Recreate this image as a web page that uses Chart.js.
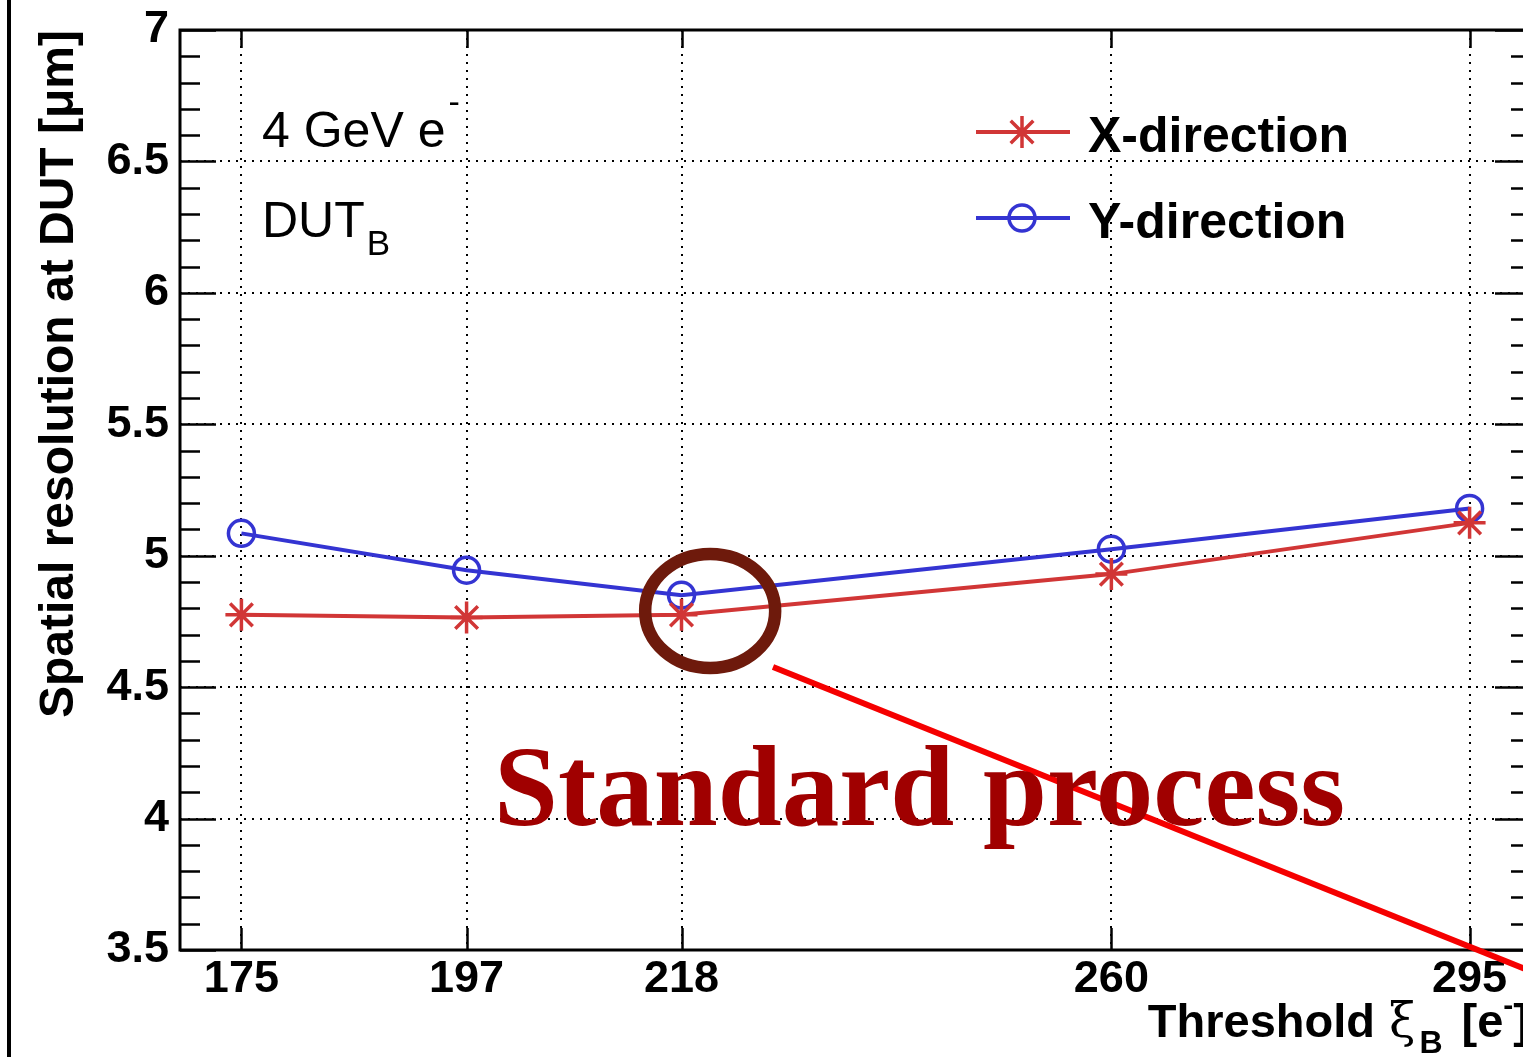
<!DOCTYPE html>
<html>
<head>
<meta charset="utf-8">
<title>Spatial resolution vs threshold</title>
<script src="https://cdn.jsdelivr.net/npm/chart.js@4/dist/chart.umd.min.js"></script>
<style>
  html, body { margin: 0; padding: 0; background: #fff; overflow: hidden; }
  #wrap { position: absolute; left: 0; top: 0; width: 1560px; height: 1057px; }
</style>
</head>
<body>
<div id="wrap"><canvas id="myChart" width="1560" height="1057"></canvas></div>
<script>
// thresholds (x) and resolutions for both directions
let thresholds = [175, 197, 218, 260, 295];
let resX = [4.775, 4.765, 4.775, 4.93, 5.125];
let resY = [5.085, 4.945, 4.85, 5.025, 5.18];

let xTicks = [175, 197, 218, 260, 295];
let yTicks = [3.5, 4, 4.5, 5, 5.5, 6, 6.5, 7];

let nameX = 'X-direction';
let nameY = 'Y-direction';
let colorX = '#d13636';
let colorY = '#3434d2';

const SANS = '"Liberation Sans", Arial, Helvetica, sans-serif';

// frame + ROOT style ticks (major/minor, on both sides)
const frameTicks = {
    id: 'frameTicks',
    beforeDatasetsDraw(chart) {
        const ctx = chart.ctx;
        const a = chart.chartArea;
        const xs = chart.scales.x;
        const ys = chart.scales.y;
        ctx.save();
        ctx.strokeStyle = '#000';
        ctx.lineWidth = 2.5;
        ctx.setLineDash([]);
        ctx.beginPath();
        for (let i = 0; i <= 35; i++) {
            const v = 3.5 + i * 0.1;
            const py = Math.round(ys.getPixelForValue(v)) + 0.5;
            const len = (i % 5 === 0) ? 36 : 20;
            ctx.moveTo(a.left, py); ctx.lineTo(a.left + len, py);
            ctx.moveTo(a.right, py); ctx.lineTo(a.right - len, py);
        }
        xTicks.forEach(v => {
            const px = Math.round(xs.getPixelForValue(v)) + 0.5;
            ctx.moveTo(px, a.bottom); ctx.lineTo(px, a.bottom - 22);
            ctx.moveTo(px, a.top); ctx.lineTo(px, a.top + 18);
        });
        ctx.stroke();
        ctx.lineWidth = 3;
        ctx.strokeRect(a.left, a.top, a.right - a.left, a.bottom - a.top);
        ctx.restore();
    }
};

// draws text pieces in a row, returns end x
function drawPieces(ctx, x, y, pieces) {
    pieces.forEach(p => {
        ctx.font = p.font;
        ctx.fillText(p.t, x + (p.dx || 0), y + (p.dy || 0));
        x += ctx.measureText(p.t).width + (p.dx || 0) + (p.gap || 0);
    });
    return x;
}

const overlay = {
    id: 'overlay',
    afterDraw(chart) {
        const ctx = chart.ctx;
        const a = chart.chartArea;
        const xs = chart.scales.x;
        const ys = chart.scales.y;
        ctx.save();
        ctx.setLineDash([]);
        ctx.fillStyle = '#000';
        ctx.textBaseline = 'alphabetic';
        ctx.textAlign = 'left';

        // slide border on the left
        ctx.fillRect(7, 0, 4, chart.height);

        // y axis title
        ctx.save();
        ctx.translate(73, 374);
        ctx.rotate(-Math.PI / 2);
        ctx.textAlign = 'center';
        ctx.font = 'bold 48px ' + SANS;
        ctx.fillText('Spatial resolution at DUT [\u03bcm]', 0, 0);
        ctx.restore();

        // x axis title, right aligned at the frame
        const bold = 'bold 47px ' + SANS;
        const xt = [
            { t: 'Threshold', font: bold, gap: 14 },
            { t: '\u03be', font: '48px "DejaVu Serif", serif', gap: 4 },
            { t: 'B', font: 'bold 32px ' + SANS, dy: 16, gap: 6 },
            { t: ' [e', font: bold },
            { t: '-', font: 'bold 30px ' + SANS, dy: -22 },
            { t: ']', font: bold }
        ];
        let w = 0;
        xt.forEach(p => { ctx.font = p.font; w += ctx.measureText(p.t).width + (p.gap || 0); });
        drawPieces(ctx, a.right - 2 - w, 1037, xt);

        // beam / device labels
        const reg = '50px ' + SANS;
        drawPieces(ctx, 262, 147, [
            { t: '4 GeV e', font: reg, gap: 3 },
            { t: '-', font: '34px ' + SANS, dy: -34 }
        ]);
        drawPieces(ctx, 262, 237, [
            { t: 'DUT', font: reg, gap: 2 },
            { t: 'B', font: '35px ' + SANS, dy: 18 }
        ]);

        // legend
        const items = [
            { name: nameX, ds: chart.data.datasets[0], y: 132 },
            { name: nameY, ds: chart.data.datasets[1], y: 218 }
        ];
        items.forEach(it => {
            ctx.strokeStyle = it.ds.borderColor;
            ctx.lineWidth = it.ds.borderWidth;
            ctx.beginPath();
            ctx.moveTo(976, it.y); ctx.lineTo(1070, it.y);
            ctx.stroke();
            ctx.fillStyle = 'rgba(0,0,0,0)';
            ctx.lineWidth = it.ds.pointBorderWidth;
            Chart.helpers.drawPoint(ctx, {
                pointStyle: it.ds.pointStyle,
                radius: it.ds.pointRadius,
                borderWidth: it.ds.pointBorderWidth,
                rotation: 0
            }, 1022, it.y);
            ctx.fillStyle = '#000';
            ctx.font = 'bold 50px ' + SANS;
            ctx.fillText(it.name, 1088, it.y + 20);
        });

        // highlight around the 218 point
        ctx.strokeStyle = '#6e1a0c';
        ctx.lineWidth = 12.5;
        ctx.beginPath();
        ctx.ellipse(xs.getPixelForValue(220.8), ys.getPixelForValue(4.79), 65, 57, 0, 0, Math.PI * 2);
        ctx.stroke();

        // pointer line
        ctx.strokeStyle = '#f50000';
        ctx.lineWidth = 6;
        ctx.beginPath();
        ctx.moveTo(773, 667);
        ctx.lineTo(1560, 667 + 787 * 0.4016);
        ctx.stroke();

        ctx.fillStyle = '#a00000';
        ctx.font = 'bold 115px "Liberation Serif", "Times New Roman", serif';
        ctx.fillText('Standard process', 494, 825);
        ctx.restore();
    }
};

const gridBase = {
    color: '#000',
    lineWidth: 2,
    drawTicks: false
};

// keep the plot frame where the layout padding puts it
function noLabelPadding(s) {
    s.paddingTop = 0;
    s.paddingBottom = 0;
    s.paddingLeft = 0;
    s.paddingRight = 0;
}

new Chart(document.getElementById('myChart'), {
    type: 'line',
    data: {
        datasets: [{
            label: nameX,
            data: thresholds.map((t, i) => ({ x: t, y: resX[i] })),
            borderColor: colorX,
            backgroundColor: colorX,
            borderWidth: 4,
            pointStyle: 'star',
            pointRadius: 16,
            pointBorderWidth: 3.5,
            pointBorderColor: colorX,
            tension: 0
        }, {
            label: nameY,
            data: thresholds.map((t, i) => ({ x: t, y: resY[i] })),
            borderColor: colorY,
            backgroundColor: 'rgba(0,0,0,0)',
            borderWidth: 4,
            pointStyle: 'circle',
            pointRadius: 13,
            pointBorderWidth: 3.5,
            pointBorderColor: colorY,
            pointBackgroundColor: 'rgba(0,0,0,0)',
            tension: 0
        }]
    },
    options: {
        responsive: false,
        animation: false,
        devicePixelRatio: 1,
        layout: { padding: { left: 0, top: 30, right: 29, bottom: 0 } },
        plugins: {
            legend: { display: false },
            tooltip: { enabled: false }
        },
        scales: {
            x: {
                type: 'linear',
                min: 169,
                max: 301,
                afterFit(s) { s.height = 107; noLabelPadding(s); },
                afterBuildTicks(s) { s.ticks = xTicks.map(v => ({ value: v })); },
                grid: gridBase,
                border: { display: false, dash: [2, 6] },
                ticks: {
                    color: '#000',
                    padding: 3,
                    maxRotation: 0,
                    autoSkip: false,
                    font: { family: SANS, size: 45, weight: 'bold', lineHeight: 1.2 },
                    callback: v => String(v)
                }
            },
            y: {
                min: 3.5,
                max: 7,
                afterFit(s) { s.width = 180; noLabelPadding(s); },
                afterBuildTicks(s) { s.ticks = yTicks.map(v => ({ value: v })); },
                grid: gridBase,
                border: { display: false, dash: [2, 6] },
                ticks: {
                    color: '#000',
                    padding: 11,
                    autoSkip: false,
                    font: { family: SANS, size: 45, weight: 'bold' },
                    callback: v => String(v)
                }
            }
        }
    },
    plugins: [frameTicks, overlay]
});
</script>
</body>
</html>
